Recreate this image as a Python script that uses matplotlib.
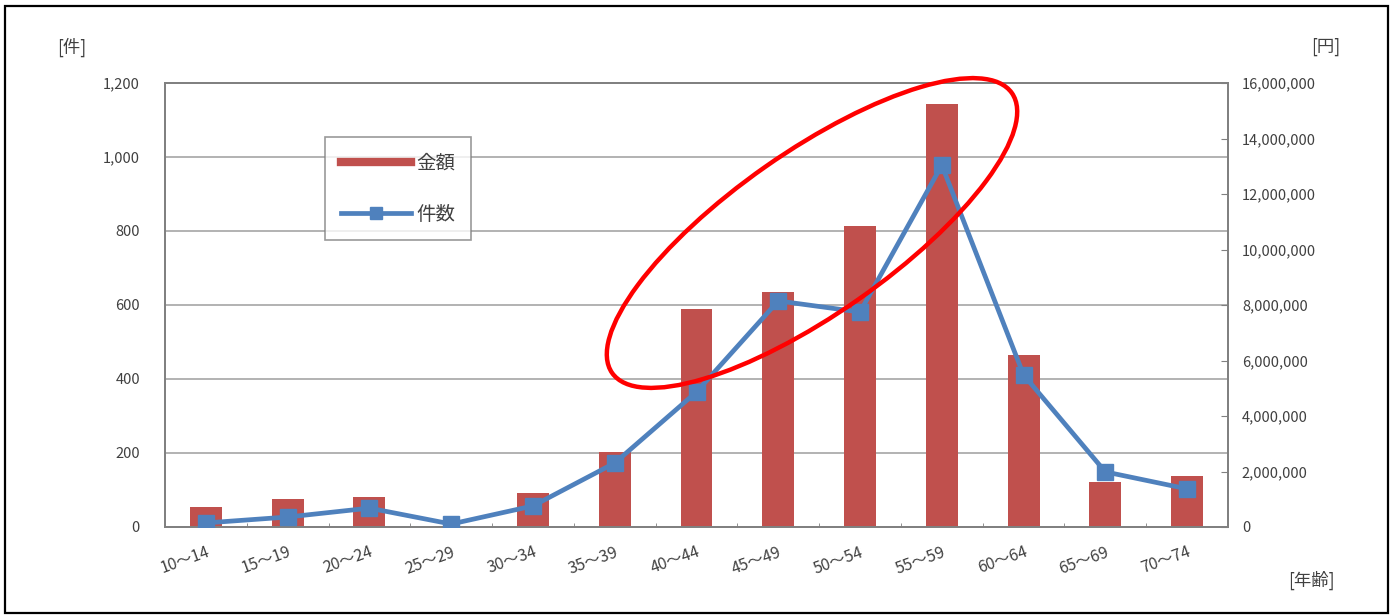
import matplotlib
matplotlib.use("Agg")
import matplotlib.pyplot as plt
from matplotlib.patches import Ellipse, Rectangle
from matplotlib.lines import Line2D
from matplotlib.ticker import FuncFormatter, FixedLocator
import numpy as np

plt.rcParams['font.family'] = ['Noto Sans CJK JP', 'DejaVu Sans']

age_groups = ["10～14", "15～19", "20～24", "25～29", "30～34", "35～39", "40～44",
              "45～49", "50～54", "55～59", "60～64", "65～69", "70～74"]
amount_yen = [720000, 1010000, 1080000, 30000, 1230000, 2700000, 7860000,
              8470000, 10850000, 15240000, 6200000, 1620000, 1840000]
counts = [11, 27, 51, 8, 57, 173, 365, 611, 581, 978, 411, 149, 103]

left_ticks = [0, 200, 400, 600, 800, 1000, 1200]
right_ticks = [0, 2000000, 4000000, 6000000, 8000000, 10000000, 12000000, 14000000, 16000000]

bar_color = "#C0504D"
line_color = "#4F81BD"
grid_color = "#A6A6A6"
text_color = "#404040"

W, H = 1394, 615
fig = plt.figure(figsize=(W / 100, H / 100), dpi=100)
fig.patch.set_facecolor("white")

l, r, t, b = 165, 1228, 83, 527
ax = fig.add_axes([l / W, 1 - b / H, (r - l) / W, (b - t) / H])
ax2 = ax.twinx()

x = np.arange(len(age_groups))

# bars on right axis (yen)
ax2.bar(x, amount_yen, width=0.39, color=bar_color, zorder=2)
ax2.set_ylim(0, 16000000)
ax2.yaxis.set_major_locator(FixedLocator(right_ticks))
ax2.yaxis.set_major_formatter(FuncFormatter(lambda v, p: f"{int(v):,}"))

# line on left axis (count) — draw on top
ax.set_zorder(ax2.get_zorder() + 1)
ax.patch.set_visible(False)
ax.plot(x, counts, color=line_color, lw=3.4, marker="s", markersize=11,
        markerfacecolor=line_color, markeredgecolor=line_color, zorder=3)
ax.set_ylim(0, 1200)
ax.yaxis.set_major_locator(FixedLocator(left_ticks))
ax.yaxis.set_major_formatter(FuncFormatter(lambda v, p: f"{int(v):,}"))
ax.set_xlim(-0.5, len(age_groups) - 0.5)

# gridlines drawn on background axis
for v in left_ticks[1:-1]:
    ax2.axhline(v * 16000000 / 1200, color=grid_color, lw=1.2, zorder=1)

for a in (ax, ax2):
    for s in a.spines.values():
        s.set_color("#808080")
        s.set_linewidth(1.3)

ax.set_xticks(x)
ax.set_xticklabels(age_groups, rotation=20, ha="right", rotation_mode="anchor",
                   fontsize=11.5, color=text_color)
ax.tick_params(axis="x", length=0, pad=12)
ax.set_xticks(np.arange(-0.5, len(age_groups), 1.0), minor=True)
ax.tick_params(axis="x", which="minor", direction="in", length=3, color="#808080")
ax.tick_params(axis="y", length=0, pad=18, labelsize=10.5, labelcolor=text_color)
ax2.tick_params(axis="y", direction="in", length=5, color="#808080", pad=10,
                labelsize=10.5, labelcolor=text_color)

# axis unit labels
fig.text(72 / W, 1 - 47 / H, "[件]", fontsize=12.5, color=text_color, ha="center", va="center")
fig.text(1326 / W, 1 - 47 / H, "[円]", fontsize=12.5, color=text_color, ha="center", va="center")
fig.text(1311 / W, 1 - 580 / H, "[年齢]", fontsize=12.5, color=text_color, ha="center", va="center")

# legend
handles = [Line2D([0], [0], color=bar_color, lw=6),
           Line2D([0], [0], color=line_color, lw=3.4, marker="s", markersize=9)]
leg = ax.legend(handles, ["金額", "件数"], loc="upper left",
                bbox_to_anchor=((325 - l) / (r - l), 1 - (137 - t) / (b - t)),
                frameon=True, fancybox=False, fontsize=14, handlelength=3.6,
                labelspacing=1.55, borderpad=0.8, borderaxespad=0, handletextpad=0.3,
                labelcolor=text_color)
leg.get_frame().set_edgecolor("#808080")
leg.get_frame().set_linewidth(1.2)
leg.set_zorder(10)

# red highlight ellipse (annotation)
ell = Ellipse((812 / 100, (H - 233) / 100), width=4.88, height=1.62, angle=35,
              transform=fig.dpi_scale_trans, fill=False, edgecolor="#FF0000", lw=3.2,
              zorder=20)
fig.add_artist(ell)

# outer frame
fig.add_artist(Rectangle((5 / W, 2 / H), (1388 - 5) / W, (613 - 6) / H,
                         transform=fig.transFigure, fill=False, edgecolor="black", lw=1.6))

fig.savefig("out.png", dpi=100)
